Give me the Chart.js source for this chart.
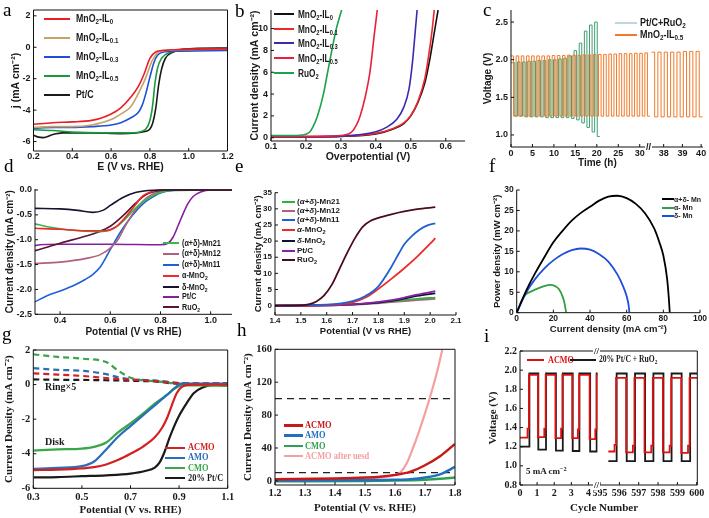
<!DOCTYPE html>
<html lang="en">
<head>
<meta charset="UTF-8">
<title>Electrocatalyst panels</title>
<script src="https://cdn.jsdelivr.net/npm/chart.js"></script>
<style>
    body { margin: 0; width: 709px; height: 518px; background: #fff; position: relative; overflow: hidden; }
    canvas { position: absolute; }
    .t { position: absolute; white-space: nowrap; line-height: 1; font-weight: bold; transform-origin: left center; }
    .sw { position: absolute; height: 2px; }
    .let { position: absolute; line-height: 1; font-family: "Liberation Serif", serif; font-size: 19px; }
    sub { font-size: 70%; vertical-align: -0.3em; line-height: 0; }
    sup { font-size: 70%; vertical-align: 0.45em; line-height: 0; }
</style>
</head>
<body>
<script>
// ---- a: ORR polarisation, MnO2-IL series ----
const aX_IL0 = [0.2, 0.3, 0.4, 0.5, 0.55, 0.6, 0.65, 0.7, 0.74, 0.77, 0.8, 0.83, 0.87, 0.95, 1.05, 1.2];
const aY_IL0 = [-4.9, -4.8, -4.75, -4.65, -4.5, -4.25, -3.85, -3.2, -2.5, -1.7, -0.7, -0.3, -0.2, -0.15, -0.12, -0.1];
const aX_IL01 = [0.2, 0.3, 0.4, 0.5, 0.6, 0.65, 0.7, 0.75, 0.78, 0.81, 0.84, 0.88, 1.0, 1.2];
const aY_IL01 = [-5.1, -5.05, -5.05, -4.95, -4.6, -4.25, -3.8, -2.7, -1.9, -0.9, -0.35, -0.2, -0.15, -0.1];
const aX_IL03 = [0.2, 0.3, 0.4, 0.5, 0.6, 0.65, 0.7, 0.74, 0.76, 0.78, 0.8, 0.82, 0.84, 0.87, 0.95, 1.2];
const aY_IL03 = [-5.15, -5.1, -5.1, -5.05, -4.95, -4.8, -4.5, -4.15, -3.7, -2.9, -1.9, -1.0, -0.5, -0.3, -0.25, -0.2];
const aX_IL05 = [0.2, 0.3, 0.4, 0.55, 0.7, 0.76, 0.79, 0.805, 0.815, 0.825, 0.84, 0.86, 0.9, 1.0, 1.2];
const aY_IL05 = [-5.25, -5.3, -5.4, -5.45, -5.45, -5.35, -5.0, -4.4, -3.6, -2.4, -1.3, -0.7, -0.35, -0.2, -0.15];
const aX_PtC = [0.2, 0.22, 0.25, 0.3, 0.35, 0.5, 0.65, 0.78, 0.8, 0.815, 0.83, 0.845, 0.86, 0.88, 0.92, 0.97, 1.2];
const aY_PtC = [-5.6, -5.7, -5.75, -5.55, -5.45, -5.45, -5.5, -5.35, -5.2, -4.8, -3.9, -2.4, -1.4, -0.7, -0.3, -0.12, -0.05];

// ---- b: OER overpotential ----
const bX_IL0 = [0.1, 0.3, 0.4, 0.45, 0.48, 0.5, 0.52, 0.54, 0.555, 0.567, 0.578];
const bY_IL0 = [0.05, 0.12, 0.35, 0.8, 1.3, 2.0, 3.2, 5.0, 7.3, 9.6, 11.7];
const bX_IL01 = [0.1, 0.3, 0.4, 0.45, 0.48, 0.5, 0.52, 0.54, 0.55, 0.56, 0.567];
const bY_IL01 = [0.1, 0.15, 0.4, 0.85, 1.35, 2.05, 3.3, 5.4, 7.3, 9.6, 11.7];
const bX_IL03 = [0.1, 0.3, 0.4, 0.43, 0.46, 0.48, 0.495, 0.505, 0.512, 0.518];
const bY_IL03 = [0.05, 0.15, 0.55, 0.95, 1.7, 2.8, 4.5, 7.0, 9.5, 11.7];
const bX_IL05 = [0.1, 0.25, 0.3, 0.33, 0.345, 0.355, 0.37, 0.383, 0.395, 0.404];
const bY_IL05 = [0.1, 0.12, 0.2, 0.5, 1.2, 2.0, 3.8, 6.0, 9.3, 11.7];
const bX_RuO2 = [0.1, 0.15, 0.19, 0.21, 0.22, 0.233, 0.25, 0.262, 0.274, 0.287, 0.302];
const bY_RuO2 = [0.2, 0.2, 0.25, 0.5, 1.0, 2.0, 4.0, 6.0, 8.0, 10.0, 11.7];

// ---- c: zinc-air cycling, one value per charge / discharge half cycle ----
const cPeriodL = 1.2;      // h per cycle, left part of broken axis
const cPeriodR = 0.34;     // h per cycle, right part
const cStartR = 37.35;
const cMnHiL = [2.05, 2.05, 2.05, 2.05, 2.05, 2.05, 2.05, 2.05, 2.055, 2.055, 2.055, 2.06, 2.06, 2.06, 2.065, 2.065, 2.07, 2.07, 2.07, 2.075, 2.075, 2.08, 2.08, 2.08, 2.085, 2.085, 2.09];
const cMnLoL = [1.25, 1.25, 1.25, 1.25, 1.25, 1.25, 1.25, 1.25, 1.25, 1.25, 1.25, 1.25, 1.25, 1.25, 1.25, 1.25, 1.25, 1.25, 1.25, 1.25, 1.25, 1.25, 1.25, 1.25, 1.25, 1.25, 1.25];
const cMnHiR = [2.1, 2.1, 2.1, 2.1, 2.1, 2.11, 2.11, 2.11];
const cMnLoR = [1.24, 1.24, 1.24, 1.24, 1.24, 1.24, 1.24, 1.24];
const cPtStart = 0.3;
const cPtHi = [1.96, 1.97, 1.97, 1.98, 1.98, 1.99, 1.99, 2.0, 2.0, 2.01, 2.02, 2.05, 2.12, 2.22, 2.38, 2.46, 2.5];
const cPtLo = [1.25, 1.25, 1.24, 1.24, 1.24, 1.24, 1.23, 1.23, 1.23, 1.23, 1.23, 1.22, 1.2, 1.16, 1.1, 1.04, 0.98];

// ---- d: ORR, (a+d) MnO2 ----
const dX_Mn21 = [0.3, 0.35, 0.43, 0.5, 0.56, 0.6, 0.63, 0.66, 0.69, 0.72, 0.76, 0.8, 0.85, 1.085];
const dY_Mn21 = [-0.68, -0.74, -0.8, -0.83, -0.84, -0.8, -0.72, -0.58, -0.42, -0.28, -0.14, -0.05, -0.01, 0];
const dX_Mn12 = [0.3, 0.4, 0.5, 0.56, 0.6, 0.63, 0.66, 0.7, 0.75, 0.8, 0.85, 1.085];
const dY_Mn12 = [-1.48, -1.45, -1.38, -1.3, -1.17, -1.0, -0.72, -0.4, -0.14, -0.03, 0, 0];
const dX_Mn11 = [0.3, 0.35, 0.4, 0.45, 0.5, 0.53, 0.56, 0.6, 0.64, 0.69, 0.73, 0.76, 0.8, 0.85, 0.9, 1.085];
const dY_Mn11 = [-2.25, -2.12, -2.03, -1.93, -1.8, -1.7, -1.55, -1.2, -0.85, -0.5, -0.28, -0.17, -0.06, -0.01, 0, 0];
const dX_aMn = [0.3, 0.4, 0.5, 0.58, 0.62, 0.66, 0.7, 0.73, 0.76, 0.8, 1.085];
const dY_aMn = [-0.77, -0.79, -0.82, -0.82, -0.75, -0.55, -0.3, -0.12, -0.04, 0, 0];
const dX_dMn = [0.3, 0.4, 0.47, 0.53, 0.57, 0.6, 0.65, 0.7, 0.75, 0.8, 1.085];
const dY_dMn = [-0.37, -0.38, -0.41, -0.45, -0.41, -0.31, -0.15, -0.05, -0.01, 0, 0];
const dX_PtC = [0.3, 0.32, 0.4, 0.6, 0.8, 0.83, 0.85, 0.87, 0.89, 0.91, 0.93, 0.96, 1.0, 1.085];
const dY_PtC = [-1.12, -1.1, -1.09, -1.09, -1.1, -1.07, -0.95, -0.72, -0.48, -0.27, -0.13, -0.04, 0, 0];
const dX_RuO2 = [0.3, 0.4, 0.5, 0.55, 0.6, 0.65, 0.7, 0.74, 0.8, 0.85, 1.085];
const dY_RuO2 = [-1.22, -1.07, -0.93, -0.85, -0.73, -0.52, -0.27, -0.1, -0.01, 0, 0];

// ---- e: OER, (a+d) MnO2 ----
const eX_RuO2 = [1.4, 1.5, 1.53, 1.56, 1.59, 1.62, 1.65, 1.68, 1.71, 1.74, 1.77, 1.8, 1.85, 1.9, 1.95, 2.02];
const eY_RuO2 = [0, 0.1, 0.4, 1.3, 3.2, 6.5, 11.5, 16.5, 21, 24.5, 26.3, 27.2, 28.3, 29.2, 29.9, 30.5];
const eX_Mn11 = [1.4, 1.6, 1.7, 1.75, 1.8, 1.85, 1.88, 1.9, 1.93, 1.96, 1.99, 2.02];
const eY_Mn11 = [0, 0.3, 1.4, 3, 6, 12, 16.3, 19, 21.6, 23.6, 24.9, 25.5];
const eX_aMn = [1.4, 1.6, 1.7, 1.75, 1.8, 1.85, 1.9, 1.95, 2.0, 2.02];
const eY_aMn = [0, 0.2, 1.0, 2.5, 5.2, 8.3, 11.6, 15.2, 19.2, 20.9];
const eX_low = [1.4, 1.65, 1.75, 1.85, 1.9, 1.95, 2.02];
const eY_PtC = [0, 0.2, 0.7, 1.7, 2.5, 3.4, 4.5];
const eY_dMn = [0, 0.2, 0.6, 1.5, 2.2, 3.0, 3.8];
const eY_Mn21 = [0, 0.25, 0.6, 1.3, 1.7, 2.1, 2.5];
const eY_Mn12 = [0, 0.25, 0.5, 1.1, 1.4, 1.7, 2.1];

// ---- f: power density ----
const fX_ad = [0, 5, 10, 15, 20, 25, 30, 35, 40, 45, 50, 55, 60, 65, 70, 75, 78, 80, 82, 83, 83.5];
const fY_ad = [0, 5.2, 9.6, 13.5, 17.2, 20, 22.5, 24.4, 25.9, 27.4, 28.4, 28.6, 28, 26.6, 24.3, 20.6, 17, 14, 8.5, 3.5, 0];
const fX_a = [0, 3, 5, 8, 12, 15, 18, 21, 23, 25, 26, 27];
const fY_a = [0, 3.2, 4.5, 5.2, 6, 6.5, 6.8, 6.5, 5.8, 4, 2.5, 0];
const fX_d = [0, 5, 10, 15, 20, 25, 30, 35, 40, 45, 50, 55, 58, 60, 61, 61.5];
const fY_d = [0, 4.8, 8.2, 10.8, 12.8, 14.3, 15.3, 15.7, 15.4, 14.3, 12.5, 9.3, 6.5, 4, 2, 0];

// ---- g: RRDE ----
const gX_Pt = [0.3, 0.4, 0.5, 0.6, 0.7, 0.76, 0.8, 0.82, 0.84, 0.86, 0.88, 0.9, 0.93, 0.96, 1.0, 1.03, 1.1];
const gY_Pt = [-5.37, -5.35, -5.3, -5.25, -5.15, -5.0, -4.8, -4.5, -3.9, -3.1, -2.4, -1.8, -1.1, -0.5, -0.15, -0.03, 0];
const gX_AC = [0.3, 0.4, 0.5, 0.55, 0.6, 0.65, 0.7, 0.75, 0.8, 0.83, 0.85, 0.87, 0.89, 0.91, 0.95, 1.1];
const gY_AC = [-4.95, -4.92, -4.85, -4.78, -4.62, -4.35, -4.0, -3.6, -3.05, -2.5, -1.95, -1.2, -0.5, -0.15, 0, 0];
const gX_AMO = [0.3, 0.4, 0.5, 0.55, 0.6, 0.65, 0.7, 0.75, 0.8, 0.85, 0.89, 0.91, 1.1];
const gY_AMO = [-4.88, -4.82, -4.72, -4.45, -3.75, -3.0, -2.4, -1.8, -1.2, -0.6, -0.1, 0.05, 0.05];
const gX_CMO = [0.3, 0.4, 0.5, 0.55, 0.6, 0.65, 0.7, 0.75, 0.8, 0.85, 0.88, 0.91, 1.0, 1.1];
const gY_CMO = [-3.82, -3.75, -3.7, -3.6, -3.35, -2.75, -2.25, -1.7, -1.1, -0.6, -0.25, -0.05, -0.05, -0.08];
const gX_ring = [0.3, 0.4, 0.5, 0.6, 0.65, 0.7, 0.75, 0.8, 0.9, 1.0, 1.1];
const gR_CMO = [1.75, 1.6, 1.5, 1.3, 0.8, 0.4, 0.25, 0.2, 0.05, 0, -0.05];
const gR_AMO = [0.95, 0.85, 0.8, 0.6, 0.42, 0.3, 0.27, 0.24, 0.1, 0.05, 0.05];
const gR_AC = [0.65, 0.58, 0.5, 0.38, 0.32, 0.28, 0.25, 0.2, 0.08, 0.05, 0.05];
const gR_Pt = [0.3, 0.28, 0.27, 0.25, 0.24, 0.22, 0.2, 0.18, 0.05, 0.05, 0.08];

// ---- h: OER LSV ----
const hX_used = [1.2, 1.4, 1.5, 1.56, 1.6, 1.62, 1.64, 1.66, 1.68, 1.7, 1.72, 1.74, 1.758];
const hY_used = [1.5, 2, 3, 4.5, 7, 11, 22, 40, 60, 82, 106, 132, 160];
const hX_AC = [1.2, 1.4, 1.5, 1.55, 1.6, 1.65, 1.7, 1.75, 1.8];
const hY_AC = [2, 3, 4, 5, 7.3, 11, 19, 30, 45];
const hX_AMO = [1.2, 1.5, 1.6, 1.65, 1.7, 1.75, 1.8];
const hY_AMO = [0.5, 0.8, 1.3, 2, 4, 8, 17];
const hX_CMO = [1.2, 1.5, 1.6, 1.7, 1.75, 1.8];
const hY_CMO = [-0.5, 0, 0.5, 1.5, 2.5, 4];
const hX_ref = [1.2, 1.8];
const hY_ref100 = [100, 100];
const hY_ref10 = [10, 10];

// ---- i: cycling, step changes (cycle number, voltage held until next change) ----
const iRedL_t = [0, 0.44, 0.52, 1.05, 1.42, 1.5, 2.07, 2.4, 2.48, 3.05, 3.38, 3.46, 4.07, 4.4, 4.48, 4.55];
const iRedL_v = [1.295, 1.39, 1.95, 1.3, 1.39, 1.95, 1.29, 1.39, 1.95, 1.29, 1.38, 1.95, 1.28, 1.38, 1.95, 1.95];
const iBlkL_t = [0, 0.55, 1.07, 1.52, 2.1, 2.5, 3.08, 3.47, 4.1, 4.48, 4.55];
const iBlkL_v = [1.2, 1.965, 1.17, 1.965, 1.16, 1.965, 1.155, 1.965, 1.15, 1.965, 1.965];
const iRedR_t = [595.43, 595.75, 595.83, 596.35, 596.7, 596.78, 597.3, 597.65, 597.73, 598.25, 598.6, 598.68, 599.2, 599.55, 599.63, 600.03];
const iRedR_v = [1.15, 1.22, 1.92, 1.14, 1.21, 1.92, 1.14, 1.21, 1.92, 1.14, 1.21, 1.92, 1.135, 1.21, 1.92, 1.92];
const iBlkR_t = [595.43, 595.86, 596.38, 596.81, 597.33, 597.76, 598.28, 598.7, 599.22, 599.66, 600.03];
const iBlkR_v = [1.05, 1.965, 1.05, 1.965, 1.05, 1.965, 1.05, 1.965, 1.05, 1.965, 1.965];

const SANS = '"Liberation Sans", Arial, sans-serif';
const SERIF = '"Liberation Serif", "Times New Roman", serif';

function xy(xs, ys) { return xs.map((x, i) => ({ x: x, y: ys[i] })); }

function curve(xs, ys, color, w, extra) {
    return Object.assign({
        data: xy(xs, ys), borderColor: color, borderWidth: w, pointRadius: 0,
        fill: false, cubicInterpolationMode: 'monotone'
    }, extra || {});
}

function steps(xs, ys, color, w) {
    return { data: xy(xs, ys), borderColor: color, borderWidth: w, pointRadius: 0, fill: false, stepped: true };
}

// square wave from per-cycle high / low values
function cycles(start, period, hi, lo) {
    const t = [], v = [];
    hi.forEach((h, k) => {
        t.push(start + k * period, start + k * period + period / 2);
        v.push(h, lo[k]);
    });
    t.push(start + hi.length * period);
    v.push(lo[lo.length - 1]);
    return [t, v];
}

// frame lines and inward tick marks
const frame = {
    id: 'frame',
    afterDatasetsDraw(chart, args, opts) {
        const { left, right, top, bottom } = chart.chartArea;
        const ctx = chart.ctx;
        const s = opts.sides || '';
        ctx.save();
        ctx.strokeStyle = '#111';
        ctx.lineWidth = 1;
        ctx.beginPath();
        if (s.includes('l')) { ctx.moveTo(left, top); ctx.lineTo(left, bottom); }
        if (s.includes('b')) { ctx.moveTo(left, bottom); ctx.lineTo(right, bottom); }
        if (s.includes('t')) { ctx.moveTo(left, top); ctx.lineTo(right, top); }
        if (s.includes('r')) { ctx.moveTo(right, top); ctx.lineTo(right, bottom); }
        const xs = chart.scales.x, ys = chart.scales.y;
        xs.ticks.forEach(t => { const p = xs.getPixelForValue(t.value); ctx.moveTo(p, bottom); ctx.lineTo(p, bottom - 3); });
        if (s.includes('l')) ys.ticks.forEach(t => { const p = ys.getPixelForValue(t.value); ctx.moveTo(left, p); ctx.lineTo(left + 3, p); });
        ctx.stroke();
        ctx.restore();
    }
};

function panel(o) {
    const [cx, cy, cw, ch] = o.box;
    const [pl, pt, pr, pb] = o.plot;
    const cv = document.createElement('canvas');
    cv.width = cw; cv.height = ch;
    cv.style.left = cx + 'px'; cv.style.top = cy + 'px';
    document.body.appendChild(cv);
    const lh = o.ts * 1.2;
    const yHidden = !!o.y.hide;

    function scale(a, horiz) {
        const hasTitle = !!a.title;
        const pad = horiz
            ? { top: 0, bottom: hasTitle ? (cy + ch) - a.titleAt - lh / 2 : 0 }
            : { top: hasTitle ? a.titleAt - cx - lh / 2 : 0, bottom: 0 };
        return {
            type: 'linear', min: a.min, max: a.max,
            afterBuildTicks: s => { s.ticks = a.ticks.map(v => ({ value: v })); },
            afterFit: s => {
                if (horiz) s.height = (cy + ch) - pb;
                else s.width = yHidden ? 0 : pl - cx;
            },
            ticks: {
                display: !a.hide, autoSkip: false, maxRotation: 0, minRotation: 0,
                padding: horiz ? (o.xPad !== undefined ? o.xPad : 1) : 3,
                color: '#1a1a1a', font: { family: o.fam, size: o.fs, weight: 'bold' },
                callback: v => a.fmt ? a.fmt(v) : String(v)
            },
            grid: { display: false, drawTicks: false },
            border: { display: false },
            title: {
                display: hasTitle, text: a.title || '', color: '#1a1a1a', padding: pad,
                font: { family: o.fam, size: o.ts, weight: 'bold' }
            }
        };
    }

    return new Chart(cv, {
        type: 'line',
        data: { datasets: o.datasets },
        options: {
            responsive: false, animation: false, events: [],
            layout: { padding: { left: yHidden ? pl - cx : 0, top: pt - cy, right: cx + cw - pr, bottom: 0 } },
            plugins: { legend: { display: false }, tooltip: { enabled: false }, frame: { sides: o.sides } },
            scales: { x: scale(o.x, true), y: scale(o.y, false) }
        },
        plugins: [frame]
    });
}

const f1 = v => v.toFixed(1);

// a
panel({
    box: [0, 0, 240, 172], plot: [33.5, 10, 227.5, 151], fam: SANS, fs: 9, ts: 10.5, sides: 'lbtr', xPad: 0,
    x: { min: 0.2, max: 1.2, ticks: [0.2, 0.4, 0.6, 0.8, 1.0, 1.2], fmt: f1, title: 'E (V vs. RHE)', titleAt: 167 },
    y: { min: -6.6, max: 2.37, ticks: [2, 0, -2, -4, -6], title: 'j (mA cm⁻²)', titleAt: 16 },
    datasets: [
        curve(aX_IL0, aY_IL0, '#ec1c24', 1.6),
        curve(aX_IL01, aY_IL01, '#c4a36a', 1.6),
        curve(aX_IL03, aY_IL03, '#1f4fd6', 1.6),
        curve(aX_IL05, aY_IL05, '#169a3c', 1.6),
        curve(aX_PtC, aY_PtC, '#1a1a1a', 1.6)
    ]
});

// b
panel({
    box: [235, 0, 240, 172], plot: [271, 10, 465, 141], fam: SANS, fs: 9, ts: 10.5, sides: 'lb', xPad: 0,
    x: { min: 0.1, max: 0.655, ticks: [0.1, 0.2, 0.3, 0.4, 0.5, 0.6], fmt: f1, title: 'Overpotential (V)', titleAt: 157.5 },
    y: { min: -0.3, max: 11.7, ticks: [0, 2, 4, 6, 8, 10], title: 'Current density (mA cm⁻²)', titleAt: 255 },
    datasets: [
        curve(bX_RuO2, bY_RuO2, '#1aa34a', 1.6),
        curve(bX_IL05, bY_IL05, '#e8203a', 1.6),
        curve(bX_IL03, bY_IL03, '#3a2ab0', 1.6),
        curve(bX_IL01, bY_IL01, '#f0262a', 1.6),
        curve(bX_IL0, bY_IL0, '#111111', 1.6)
    ]
});

// c, broken time axis drawn as two charts
const cMnL = cycles(0, cPeriodL, cMnHiL, cMnLoL);
const cMnR = cycles(cStartR, cPeriodR, cMnHiR, cMnLoR);
const cPt = cycles(cPtStart, cPeriodL, cPtHi, cPtLo);
panel({
    box: [470, 0, 180, 172], plot: [511, 10, 650, 147], fam: SANS, fs: 9, ts: 10, sides: 'lb',
    x: { min: 0, max: 32.4, ticks: [0, 5, 10, 15, 20, 25, 30] },
    y: { min: 0.84, max: 2.66, ticks: [1.0, 1.5, 2.0, 2.5], fmt: f1, title: 'Voltage (V)', titleAt: 488 },
    datasets: [
        steps(cMnL[0], cMnL[1], '#f07a2a', 1),
        steps([0].concat(cPt[0]), [cPtHi[0]].concat(cPt[1]), '#3e9e72', 1)
    ]
});
panel({
    box: [640, 0, 69, 172], plot: [650, 10, 703, 147], fam: SANS, fs: 9, ts: 10, sides: 'b',
    x: { min: 37.27, max: 40.1, ticks: [38, 39, 40] },
    y: { min: 0.84, max: 2.66, ticks: [], hide: true },
    datasets: [steps(cMnR[0], cMnR[1], '#f07a2a', 1)]
});

// d
panel({
    box: [0, 172, 240, 168], plot: [35, 189, 232, 314.3], fam: SANS, fs: 9, ts: 10, sides: 'lb',
    x: { min: 0.3, max: 1.085, ticks: [0.4, 0.6, 0.8, 1.0], fmt: f1, title: 'Potential (V vs RHE)', titleAt: 332 },
    y: { min: -2.5, max: 0.02, ticks: [0, -0.5, -1, -1.5, -2, -2.5], fmt: f1, title: 'Current density (mA cm⁻²)', titleAt: 10 },
    datasets: [
        curve(dX_dMn, dY_dMn, '#141430', 1.6),
        curve(dX_aMn, dY_aMn, '#ee2a2a', 1.6),
        curve(dX_Mn21, dY_Mn21, '#3cb44a', 1.6),
        curve(dX_RuO2, dY_RuO2, '#5a1434', 1.6),
        curve(dX_Mn12, dY_Mn12, '#b0607a', 1.6),
        curve(dX_Mn11, dY_Mn11, '#1f5fd8', 1.6),
        curve(dX_PtC, dY_PtC, '#8420a0', 1.6)
    ]
});

// e
panel({
    box: [235, 172, 240, 168], plot: [275, 192.7, 456, 315], fam: SANS, fs: 8, ts: 9.5, sides: 'lb',
    x: { min: 1.4, max: 2.1, ticks: [1.4, 1.5, 1.6, 1.7, 1.8, 1.9, 2.0, 2.1], fmt: f1, title: 'Potential (V vs RHE)', titleAt: 331 },
    y: { min: -2.9, max: 35, ticks: [0, 5, 10, 15, 20, 25, 30, 35], title: 'Current density (mA cm⁻²)', titleAt: 258 },
    datasets: [
        curve(eX_RuO2, eY_RuO2, '#4a0c1c', 1.8),
        curve(eX_Mn11, eY_Mn11, '#2060d0', 1.8),
        curve(eX_aMn, eY_aMn, '#ee2a2a', 1.8),
        curve(eX_low, eY_PtC, '#8a20a8', 1.8),
        curve(eX_low, eY_dMn, '#101030', 1.8),
        curve(eX_low, eY_Mn21, '#30b040', 1.8),
        curve(eX_low, eY_Mn12, '#b06080', 1.8)
    ]
});

// f
panel({
    box: [470, 172, 239, 168], plot: [516.7, 190, 700, 312.7], fam: SANS, fs: 8.5, ts: 9.5, sides: 'lb',
    x: { min: 0, max: 100, ticks: [0, 20, 40, 60, 80, 100], title: 'Current density (mA cm⁻²)', titleAt: 329 },
    y: { min: 0, max: 30, ticks: [0, 5, 10, 15, 20, 25, 30], title: 'Power density (mW cm⁻²)', titleAt: 497 },
    datasets: [
        curve(fX_ad, fY_ad, '#000000', 1.8),
        curve(fX_d, fY_d, '#1f4fd8', 1.8),
        curve(fX_a, fY_a, '#30a040', 1.8)
    ]
});

// g
const dash = { borderDash: [6, 4] };
panel({
    box: [0, 340, 240, 178], plot: [33.3, 350, 227.7, 488.3], fam: SERIF, fs: 10.5, ts: 11, sides: 'lbtr', xPad: 3,
    x: { min: 0.3, max: 1.1, ticks: [0.3, 0.5, 0.7, 0.9, 1.1], fmt: f1, title: 'Potential (V vs. RHE)', titleAt: 510 },
    y: { min: -6, max: 2, ticks: [2, 0, -2, -4, -6], title: 'Current Density (mA cm⁻²)', titleAt: 9 },
    datasets: [
        curve(gX_AC, gY_AC, '#d42020', 2.2),
        curve(gX_AMO, gY_AMO, '#2a6eb8', 2.2),
        curve(gX_CMO, gY_CMO, '#3aa64a', 2.2),
        curve(gX_Pt, gY_Pt, '#1a1a1a', 2.2),
        curve(gX_ring, gR_AC, '#d42020', 2.2, dash),
        curve(gX_ring, gR_AMO, '#2a6eb8', 2.2, dash),
        curve(gX_ring, gR_CMO, '#3aa64a', 2.2, dash),
        curve(gX_ring, gR_Pt, '#1a1a1a', 2.2, dash)
    ]
});

// h
panel({
    box: [235, 340, 240, 178], plot: [275, 349, 455, 485], fam: SERIF, fs: 10.5, ts: 11, sides: 'lbtr', xPad: 2,
    x: { min: 1.2, max: 1.8, ticks: [1.2, 1.3, 1.4, 1.5, 1.6, 1.7, 1.8], fmt: f1, title: 'Potential (V vs. RHE)', titleAt: 508 },
    y: { min: -5, max: 160, ticks: [0, 40, 80, 120, 160], title: 'Current Density (mA cm⁻²)', titleAt: 248 },
    datasets: [
        curve(hX_AC, hY_AC, '#c81818', 2.5),
        curve(hX_AMO, hY_AMO, '#2070c0', 2.5),
        curve(hX_CMO, hY_CMO, '#30a050', 2.5),
        curve(hX_used, hY_used, '#f4a0a0', 2.2),
        curve(hX_ref, hY_ref100, '#222', 1.2, { borderDash: [7, 5] }),
        curve(hX_ref, hY_ref10, '#222', 1.2, { borderDash: [7, 5] })
    ]
});

// i, broken cycle axis
panel({
    box: [470, 340, 128, 178], plot: [520, 351, 597.7, 485], fam: SERIF, fs: 10, ts: 11, sides: 'lbt', xPad: 2,
    x: { min: 0, max: 4.54, ticks: [0, 1, 2, 3, 4] },
    y: { min: 0.8, max: 2.2, ticks: [0.8, 1.0, 1.2, 1.4, 1.6, 1.8, 2.0, 2.2], fmt: f1, title: 'Voltage (V)', titleAt: 493 },
    datasets: [
        steps(iRedL_t, iRedL_v, '#e01010', 1.8),
        steps(iBlkL_t, iBlkL_v, '#1a1a1a', 1.8)
    ]
});
panel({
    box: [583, 340, 126, 178], plot: [597.7, 351, 697.3, 485], fam: SERIF, fs: 10, ts: 11, sides: 'btr', xPad: 2,
    x: { min: 594.88, max: 600.03, ticks: [595, 596, 597, 598, 599, 600] },
    y: { min: 0.8, max: 2.2, ticks: [], hide: true },
    datasets: [
        steps(iRedR_t, iRedR_v, '#e01010', 1.8),
        steps(iBlkR_t, iBlkR_v, '#1a1a1a', 1.8)
    ]
});

// ---- text overlays: legends, letters, notes ----
function text(x, yc, html, size, fam, color, sx, extra) {
    const d = document.createElement('div');
    d.className = 't';
    d.innerHTML = html;
    d.style.left = x + 'px';
    d.style.top = (yc - size / 2) + 'px';
    d.style.fontSize = size + 'px';
    d.style.fontFamily = fam;
    d.style.color = color || '#1a1a1a';
    if (sx) d.style.transform = 'scaleX(' + sx + ')';
    if (extra) Object.assign(d.style, extra);
    document.body.appendChild(d);
    return d;
}
function swatch(x, yc, w, color, h) {
    const d = document.createElement('div');
    d.className = 'sw';
    d.style.left = x + 'px';
    d.style.top = (yc - (h || 2) / 2) + 'px';
    d.style.width = w + 'px';
    d.style.height = (h || 2) + 'px';
    d.style.background = color;
    document.body.appendChild(d);
}
function legend(items, sx, sw, tx, size, fam, colorText, squeeze) {
    items.forEach(it => {
        swatch(sx, it[0], sw, it[1], it[3]);
        text(tx, it[0], it[2], size, fam, colorText ? it[1] : '#1a1a1a', squeeze);
    });
}
function letter(ch, x, base) {
    const d = document.createElement('div');
    d.className = 'let';
    d.textContent = ch;
    d.style.left = x + 'px';
    d.style.top = (base - 17) + 'px';
    document.body.appendChild(d);
}

legend([
    [18.5, '#ec1c24', 'MnO<sub>2</sub>-IL<sub>0</sub>'],
    [37.5, '#c4a36a', 'MnO<sub>2</sub>-IL<sub>0.1</sub>'],
    [56.5, '#1f4fd6', 'MnO<sub>2</sub>-IL<sub>0.3</sub>'],
    [75.5, '#169a3c', 'MnO<sub>2</sub>-IL<sub>0.5</sub>'],
    [94.5, '#1a1a1a', 'Pt/C']
], 44, 26, 76, 11, SANS, false, 0.8);

legend([
    [14, '#111111', 'MnO<sub>2</sub>-IL<sub>0</sub>'],
    [29, '#f0262a', 'MnO<sub>2</sub>-IL<sub>0.1</sub>'],
    [43, '#3a2ab0', 'MnO<sub>2</sub>-IL<sub>0.3</sub>'],
    [58, '#e8203a', 'MnO<sub>2</sub>-IL<sub>0.5</sub>'],
    [73, '#1aa34a', 'RuO<sub>2</sub>']
], 274, 20, 298, 11, SANS, false, 0.75);

legend([
    [23, '#c0d6de', 'Pt/C+RuO<sub>2</sub>', 1.5],
    [35, '#f07a2a', 'MnO<sub>2</sub>-IL<sub>0.5</sub>', 1.5]
], 615, 22, 640, 10, SANS, false, 0.9);
text(578, 163, 'Time (h)', 10, SANS);
text(645, 147, '//', 9, SANS, '#111', 0, { background: '#fff', padding: '0 1px' });

legend([
    [243, '#3cb44a', '(α+δ)-Mn21'],
    [253.5, '#b0607a', '(α+δ)-Mn12'],
    [264.5, '#1f5fd8', '(α+δ)-Mn11'],
    [275.5, '#ee2a2a', 'α-MnO<sub>2</sub>'],
    [287, '#141430', 'δ-MnO<sub>2</sub>'],
    [296.5, '#8420a0', 'Pt/C'],
    [307, '#5a1434', 'RuO<sub>2</sub>']
], 163, 16, 182, 8.5, SANS, false, 0.85);

legend([
    [202.3, '#30b040', '(<i>α</i>+<i>δ</i>)-Mn21'],
    [211, '#b06080', '(<i>α</i>+<i>δ</i>)-Mn12'],
    [220.3, '#2060d0', '(<i>α</i>+<i>δ</i>)-Mn11'],
    [230.3, '#ee2a2a', '<i>α</i>-MnO<sub>2</sub>'],
    [241, '#101030', '<i>δ</i>-MnO<sub>2</sub>'],
    [251, '#8a20a8', 'Pt/C'],
    [260.3, '#4a0c1c', 'RuO<sub>2</sub>']
], 282, 13, 297, 8, SANS);

legend([
    [199.3, '#000000', 'α+δ- Mn'],
    [207.5, '#30a040', 'α- Mn'],
    [215.8, '#1f4fd8', 'δ- Mn']
], 662, 12, 674, 7, SANS);

legend([
    [447.7, '#d42020', 'ACMO'],
    [457.5, '#2a6eb8', 'AMO'],
    [467.8, '#3aa64a', 'CMO'],
    [478.3, '#1a1a1a', '20% Pt/C']
], 165, 20, 188, 10.5, SERIF, true, 0.8);
text(45, 387, 'Ring×5', 10, SERIF);
text(45, 442, 'Disk', 10, SERIF);

legend([
    [425.7, '#c81818', 'ACMO', 2.5],
    [435.7, '#2070c0', 'AMO', 2.5],
    [446, '#30a050', 'CMO', 2.5],
    [456, '#f4a0a0', 'ACMO after uesd', 2.5]
], 284, 19, 305, 10.5, SERIF, true, 0.8);

swatch(527, 360, 17, '#e01010', 2);
text(548, 360, 'ACMO', 10, SERIF, '#e01010', 0.82);
swatch(570, 360, 26, '#1a1a1a', 2);
text(599, 360, '20% Pt/C + RuO<sub>2</sub>', 9.5, SERIF, '#1a1a1a', 0.8);
text(526, 471.5, '5 mA cm<sup>−2</sup>', 9, SERIF);
text(570, 507, 'Cycle Number', 11, SERIF);
text(593, 351, '//', 9, SERIF, '#111', 0, { background: '#fff', padding: '0 1px' });
text(593, 485, '//', 9, SERIF, '#111', 0, { background: '#fff', padding: '0 1px' });

letter('a', 3, 17);
letter('b', 235, 18);
letter('c', 483, 17);
letter('d', 4, 173);
letter('e', 235, 173);
letter('f', 489, 173);
letter('g', 2, 341);
letter('h', 237, 337);
letter('i', 484, 343);
</script>
</body>
</html>
